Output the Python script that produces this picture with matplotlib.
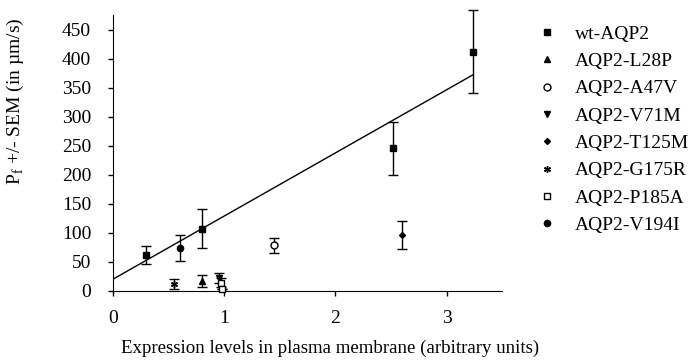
import numpy as np
import matplotlib
matplotlib.use("Agg")
import matplotlib.pyplot as plt
from matplotlib.lines import Line2D

plt.rcParams["font.family"] = ["Liberation Serif", "DejaVu Serif"]

# data: x, y, errors
wt_x = [0.30, 0.80, 2.52, 3.24]
wt_y = [62, 107, 246, 412]
wt_lo = [15, 33, 46, 71]
wt_hi = [16, 34, 45, 72]

l28p_x = [0.80]
l28p_y = [17]
l28p_err = [11]

a47v_x = [1.45]
a47v_y = [79]
a47v_err = [13]

v71m_x = [0.95]
v71m_y = [22]
v71m_err = [9]

t125m_x = [2.60]
t125m_y = [96]
t125m_err = [24]

g175r_x = [0.55]
g175r_y = [12]
g175r_err = [9]

p185a_x = [0.97, 0.98]
p185a_y = [14, 3]
p185a_err = [8, 0]

v194i_x = [0.60]
v194i_y = [74]
v194i_err = [22]

# regression line
fit_x = [0.0, 3.24]
fit_y = [20, 373]

labels = ["wt-AQP2", "AQP2-L28P", "AQP2-A47V", "AQP2-V71M",
          "AQP2-T125M", "AQP2-G175R", "AQP2-P185A", "AQP2-V194I"]
markers = ["s", "^", "o", "v", "D", (6, 2, 0), "s", "o"]
faces = ["black", "black", "white", "black", "black", "black", "white", "black"]
sizes = [5, 4, 5, 4, 3, 5, 5, 4.5]

fig = plt.figure(figsize=(6.88, 3.6), dpi=100)
ax = fig.add_axes([0.164, 0.192, 0.566, 0.765])

ax.plot(fit_x, fit_y, color="black", lw=1.0, zorder=2)

series = [
    (wt_x, wt_y, [wt_lo, wt_hi]),
    (l28p_x, l28p_y, l28p_err),
    (a47v_x, a47v_y, a47v_err),
    (v71m_x, v71m_y, v71m_err),
    (t125m_x, t125m_y, t125m_err),
    (g175r_x, g175r_y, g175r_err),
    (p185a_x, p185a_y, p185a_err),
    (v194i_x, v194i_y, v194i_err),
]
for i, (x, y, e) in enumerate(series):
    ax.errorbar(x, y, yerr=e, fmt="", marker=markers[i], ms=sizes[i],
                mfc=faces[i], mec="black", mew=1.0, ls="none",
                ecolor="black", elinewidth=1.0, capsize=3.5, capthick=1.0,
                color="black", clip_on=False, zorder=3)

ax.set_xlim(0, 3.5)
ax.set_ylim(0, 475)
ax.set_xticks([0, 1, 2, 3])
ax.set_yticks(np.arange(0, 451, 50))
ax.spines["top"].set_visible(False)
ax.spines["right"].set_visible(False)
ax.tick_params(labelsize=14, length=3.6, width=1, direction="out")
ax.tick_params(axis="y", pad=12)
ax.tick_params(axis="x", pad=10)

ax.set_xlabel("Expression levels in plasma membrane (arbitrary units)", fontsize=13.6)
ax.xaxis.set_label_coords(0.559, -0.178)
ax.set_ylabel("P$_\\mathregular{f}$ +/- SEM (in \u00b5m/s)", fontsize=14)
ax.yaxis.set_label_coords(-0.224, 0.69)

handles = [Line2D([], [], ls="none", marker=markers[i], ms=sizes[i], mfc=faces[i],
                  mec="black", mew=1.0, color="black") for i in range(len(labels))]
fig.legend(handles, labels, loc="upper left", bbox_to_anchor=(0.7697, 0.952),
           frameon=False, fontsize=14, handlelength=1.0, handletextpad=0.94,
           labelspacing=0.5, borderaxespad=0)

fig.savefig("out.png", dpi=100)
